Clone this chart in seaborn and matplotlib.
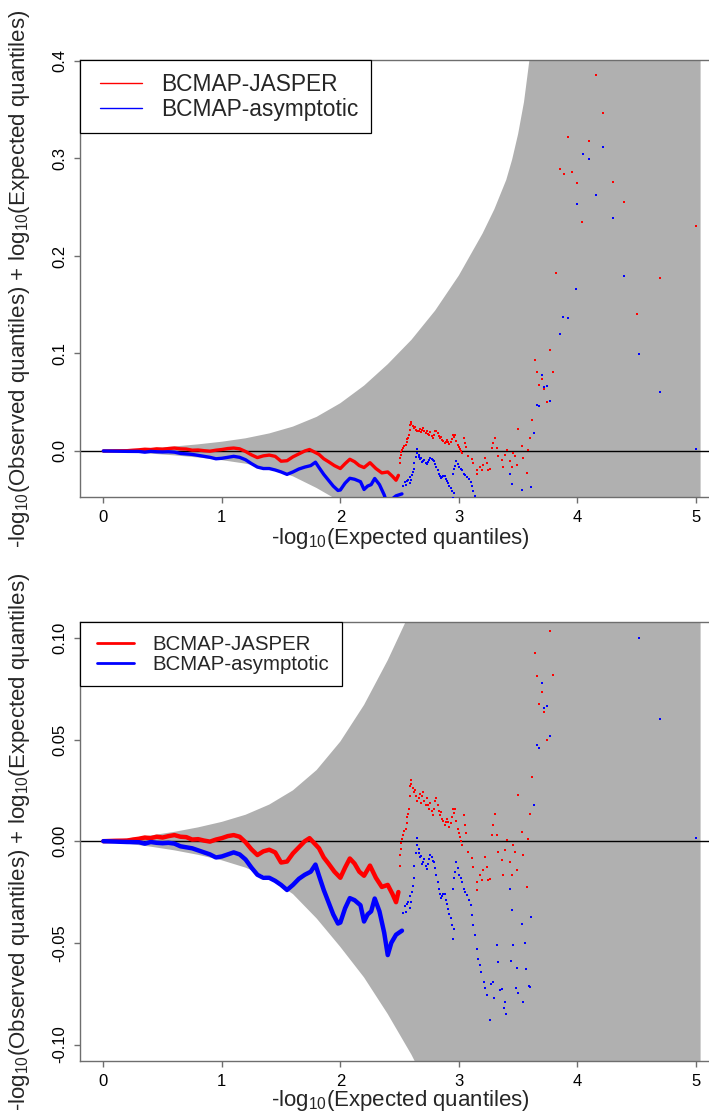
import matplotlib
matplotlib.use("Agg")
import matplotlib.pyplot as plt
from matplotlib.lines import Line2D
from matplotlib.legend_handler import HandlerLine2D
import seaborn as sns

# ---------------- data ----------------
band_x = [0.0, 0.2, 0.4, 0.6, 0.8, 1.0, 1.2, 1.4, 1.6, 1.8, 2.0, 2.2, 2.4, 2.6, 2.8, 3.0, 3.2, 3.3, 3.4, 3.45, 3.5,
          3.55, 3.6, 3.7, 3.8, 4.0, 4.5, 5.04]
band_upper = [0.0, 0.0013, 0.0028, 0.0046, 0.0068, 0.0095, 0.0130, 0.0180, 0.0250, 0.0350, 0.0490, 0.0670, 0.0890,
              0.1140, 0.1440, 0.1800, 0.2230, 0.2480, 0.2780, 0.2990, 0.3250, 0.3580, 0.4050, 0.5200, 0.6500, 0.9000,
              1.5000, 2.5000]
band_lower = [0.0, -0.0012, -0.0027, -0.0045, -0.0067, -0.0094, -0.0130, -0.0180, -0.0260, -0.0380, -0.0520, -0.0670,
              -0.0850, -0.1050, -0.1280, -0.1550, -0.1850, -0.2000, -0.2200, -0.2300, -0.2400, -0.2500, -0.2600,
              -0.2800, -0.3000, -0.3500, -0.4500, -0.6000]

red_line_x = [0.00, 0.10, 0.20, 0.25, 0.30, 0.35, 0.40, 0.45, 0.50, 0.55, 0.60, 0.65, 0.70, 0.75, 0.80, 0.85, 0.90, 0.95,
              1.00, 1.05, 1.10, 1.15, 1.20, 1.25, 1.30, 1.35, 1.40, 1.45, 1.50, 1.55, 1.60, 1.65, 1.70, 1.74, 1.78, 1.82,
              1.86, 1.90, 1.95, 2.00, 2.04, 2.08, 2.12, 2.16, 2.20, 2.25, 2.30, 2.35, 2.40, 2.44, 2.47, 2.49]
red_line_y = [0.0, 0.0002, 0.0003, 0.0008, 0.0012, 0.0018, 0.0015, 0.0022, 0.0018, 0.0025, 0.0030, 0.0022, 0.0020, 0.0008,
              0.0010, 0.0003, -0.0002, 0.0008, 0.0015, 0.0025, 0.0030, 0.0022, -0.0005, -0.0040, -0.0068, -0.0050, -0.0042,
              -0.0055, -0.0105, -0.0100, -0.0060, -0.0030, 0.0000, 0.0015, -0.0010, -0.0035, -0.0080, -0.0110, -0.0150,
              -0.0180, -0.0130, -0.0085, -0.0110, -0.0150, -0.0170, -0.0120, -0.0180, -0.0225, -0.0215, -0.0260, -0.0300, -0.0250]

blue_line_x = [0.00, 0.10, 0.20, 0.30, 0.35, 0.40, 0.45, 0.50, 0.55, 0.60, 0.65, 0.70, 0.75, 0.80, 0.85, 0.90, 0.95,
               1.00, 1.05, 1.10, 1.15, 1.20, 1.25, 1.30, 1.35, 1.40, 1.45, 1.50, 1.55, 1.60, 1.65, 1.70, 1.75, 1.79,
               1.82, 1.86, 1.90, 1.94, 1.98, 2.00, 2.04, 2.08, 2.12, 2.17, 2.20, 2.23, 2.26, 2.29, 2.33, 2.37, 2.40,
               2.43, 2.47, 2.52]
blue_line_y = [0.0, -0.0002, -0.0004, -0.0005, -0.0012, -0.0004, -0.0008, -0.0010, -0.0008, -0.0012, -0.0025, -0.0030,
               -0.0035, -0.0045, -0.0055, -0.0065, -0.0080, -0.0075, -0.0065, -0.0055, -0.0065, -0.0090, -0.0130, -0.0165,
               -0.0180, -0.0180, -0.0195, -0.0215, -0.0240, -0.0215, -0.0185, -0.0165, -0.0150, -0.0115, -0.0170, -0.0240,
               -0.0300, -0.0360, -0.0405, -0.0400, -0.0330, -0.0280, -0.0290, -0.0315, -0.0395, -0.0360, -0.0345, -0.0282,
               -0.0345, -0.0450, -0.0560, -0.0500, -0.0460, -0.0440]

red_pts_x = [2.50, 2.505, 2.51, 2.515, 2.52, 2.53, 2.54, 2.55, 2.56, 2.565, 2.57, 2.58, 2.585, 2.59, 2.595,
             2.60, 2.61, 2.62, 2.63, 2.64, 2.65, 2.66, 2.67, 2.68, 2.69, 2.70, 2.71, 2.72, 2.73, 2.74, 2.75, 2.76, 2.77,
             2.78, 2.79, 2.80, 2.81, 2.82, 2.83, 2.84, 2.85, 2.86, 2.87, 2.88, 2.89, 2.90, 2.91, 2.92, 2.93, 2.94, 2.95,
             2.96, 2.97, 2.98, 2.99, 3.00, 3.01, 3.02, 3.03, 3.04, 3.05, 3.06,
             3.08, 3.109, 3.123, 3.15, 3.15, 3.18, 3.193, 3.207, 3.22, 3.235, 3.249, 3.263, 3.277, 3.29, 3.305, 3.32,
             3.33, 3.36, 3.376, 3.39, 3.404, 3.432, 3.446, 3.46, 3.474, 3.488, 3.503, 3.53, 3.545, 3.573, 3.587, 3.60,
             3.615, 3.64, 3.657, 3.677, 3.70, 3.72, 3.745, 3.77, 3.795, 3.82, 3.855, 3.885, 3.92, 3.958, 3.997, 4.04,
             4.10, 4.155, 4.22, 4.30, 4.394, 4.50, 4.70, 5.00]
red_pts_y = [-0.012, -0.007, -0.004, -0.001, 0.001, 0.003, 0.005, 0.006, 0.009, 0.012, 0.0136, 0.016, 0.022, 0.027, 0.030,
             0.028, 0.026, 0.024, 0.025, 0.022, 0.020, 0.021, 0.023, 0.019, 0.022, 0.024, 0.020, 0.018, 0.021, 0.0177,
             0.016, 0.019, 0.015, 0.013, 0.016, 0.020, 0.021, 0.018, 0.015, 0.013, 0.0144, 0.011, 0.010, 0.008, 0.0095,
             0.011, 0.0095, 0.007, 0.009, 0.012, 0.016, 0.014, 0.016, 0.010, 0.006, 0.004, 0.002, 0.000, -0.002, 0.0128,
             0.008, 0.004,
             -0.0052, -0.0085, -0.0126, -0.0200, -0.0241, -0.0167, -0.0192, -0.0143, -0.0077, -0.0126, -0.0192, -0.0184,
             0.0030, 0.0079, 0.0136, 0.0030, -0.0052, -0.0094, -0.0167, -0.0044, 0.0005, -0.0102, -0.0167, -0.0020,
             -0.0052, -0.0143, 0.0226, 0.0046, -0.0069, -0.0225, 0.0013, 0.0136, 0.0317, 0.0928, 0.0813, 0.0676, 0.0736,
             0.0634, 0.0500, 0.1035, 0.0815, 0.183, 0.289, 0.284, 0.322, 0.286, 0.275, 0.235, 0.318, 0.386, 0.347, 0.276,
             0.255, 0.140, 0.177, 0.231]

blue_pts_x = [2.53, 2.545, 2.55, 2.56, 2.575, 2.585, 2.59, 2.60, 2.605, 2.61, 2.62, 2.625, 2.635, 2.645, 2.65, 2.66,
              2.665, 2.67, 2.68, 2.69, 2.70, 2.71, 2.72, 2.73, 2.74, 2.75, 2.76, 2.77, 2.78, 2.79, 2.80, 2.81, 2.82, 2.83,
              2.84, 2.85, 2.86, 2.87, 2.88, 2.89, 2.90, 2.91, 2.92, 2.93, 2.94, 2.95, 2.955, 2.95, 2.96, 2.97, 2.98,
              2.99, 3.00, 3.02, 3.03, 3.04, 3.055, 3.07, 3.085, 3.10, 3.11, 3.12, 3.135, 3.15, 3.16, 3.175, 3.19, 3.21,
              3.22, 3.24, 3.26, 3.27, 3.29, 3.30, 3.32, 3.33, 3.35, 3.36, 3.38, 3.39, 3.40, 3.43, 3.44, 3.45, 3.46, 3.48,
              3.49, 3.50, 3.53, 3.54, 3.56, 3.57, 3.59, 3.60, 3.61, 3.63, 3.657, 3.677, 3.70, 3.72, 3.747, 3.77, 3.85,
              3.88, 3.92, 3.99, 4.00, 4.045, 4.095, 4.155, 4.22, 4.30, 4.397, 4.52, 4.70, 5.00]
blue_pts_y = [-0.0355, -0.032, -0.035, -0.031, -0.0299, -0.027, -0.033, -0.030, -0.025, -0.022, -0.018, -0.012, -0.006,
              0.0018, -0.002, -0.006, -0.004, -0.008, -0.0075, -0.011, -0.0102, -0.009, -0.012, -0.0135, -0.011, -0.009,
              -0.0069, -0.008, -0.0095, -0.0102, -0.013, -0.0167, -0.020, -0.0233, -0.026, -0.028, -0.027, -0.026,
              -0.0258, -0.029, -0.031, -0.0333, -0.036, -0.038, -0.041, -0.0479, -0.043, -0.0233, -0.018, -0.015, -0.0102,
              -0.013, -0.0167, -0.018, -0.020, -0.0233, -0.025, -0.0266, -0.029, -0.0315, -0.0364, -0.0413, -0.046,
              -0.0528, -0.0577, -0.061, -0.0643, -0.0692, -0.072, -0.0758, -0.0881, -0.070, -0.0692, -0.077, -0.0512,
              -0.0594, -0.073, -0.0725, -0.082, -0.0791, -0.0849, -0.0233, -0.059, -0.034, -0.0512, -0.072, -0.0626,
              -0.0745, -0.0405, -0.079, -0.050, -0.063, -0.071, -0.0717, -0.0372, 0.018, 0.0475, 0.046, 0.078, 0.0655,
              0.0664, 0.0516, 0.120, 0.137, 0.136, 0.166, 0.253, 0.305, 0.2995, 0.263, 0.312, 0.239, 0.179, 0.0997,
              0.0603, 0.0018]

series_labels = ["BCMAP-JASPER", "BCMAP-asymptotic"]
top_yticks = [0.0, 0.1, 0.2, 0.3, 0.4]
top_yticklabels = ["0.0", "0.1", "0.2", "0.3", "0.4"]
bot_yticks = [-0.10, -0.05, 0.0, 0.05, 0.10]
bot_yticklabels = ["-0.10", "-0.05", "0.00", "0.05", "0.10"]
xticks = [0, 1, 2, 3, 4, 5]
xticklabels = ["0", "1", "2", "3", "4", "5"]

# ---------------- style ----------------
sns.set_style("white")
plt.rcParams["font.family"] = ["Liberation Sans", "DejaVu Sans"]
plt.rcParams["mathtext.fontset"] = "custom"
plt.rcParams["mathtext.rm"] = "Liberation Sans"
plt.rcParams["mathtext.it"] = "Liberation Sans:italic"

RED = "#ff0000"
BLUE = "#0000ff"
GREY = "#b0b0b0"
AXC = "#6e6e6e"

fig = plt.figure(figsize=(7.09, 11.14), dpi=100)
ax_top = fig.add_axes([80 / 709, 1 - 497 / 1114, 629 / 709, 437 / 1114])
ax_bot = fig.add_axes([80 / 709, 1 - 1061 / 1114, 629 / 709, 439 / 1114])

ylabel = r"-log$_{10}$(Observed quantiles) + log$_{10}$(Expected quantiles)"
xlabel = r"-log$_{10}$(Expected quantiles)"


def draw(ax, ylim, yticks, yticklabels, line_w, leg_fs, leg_lw, xpad, leg_kw, xlab_y):
    ax.fill_between(band_x, band_lower, band_upper, color=GREY, lw=0, zorder=1)
    ax.axhline(0, color="black", lw=1.0, zorder=2)
    sns.lineplot(x=red_line_x, y=red_line_y, color=RED, lw=line_w, sort=False, estimator=None, ax=ax, zorder=3)
    sns.lineplot(x=blue_line_x, y=blue_line_y, color=BLUE, lw=line_w, sort=False, estimator=None, ax=ax, zorder=3)
    sns.scatterplot(x=red_pts_x, y=red_pts_y, color=RED, s=3, marker="s", linewidth=0, ax=ax, zorder=4)
    sns.scatterplot(x=blue_pts_x, y=blue_pts_y, color=BLUE, s=3, marker="s", linewidth=0, ax=ax, zorder=4)

    ax.set_xlim(-0.197, 5.111)
    ax.set_ylim(*ylim)
    ax.set_xticks(xticks)
    ax.set_xticklabels(xticklabels)
    ax.set_yticks(yticks)
    ax.set_yticklabels(yticklabels, rotation=90, va="center")
    ax.tick_params(axis="both", direction="out", length=4, width=1, color=AXC,
                   labelsize=12, labelcolor="black", pad=5, bottom=True, left=True)
    for side in ["left", "bottom", "top"]:
        ax.spines[side].set_color(AXC)
        ax.spines[side].set_linewidth(1.0)
        ax.spines[side].set_visible(True)
    ax.spines["right"].set_visible(False)
    ax.grid(False)
    ax.set_facecolor("white")

    ax.set_ylabel(ylabel, fontsize=16, va="center")
    ax.yaxis.set_label_coords(-0.0954, 0.5)
    ax.set_xlabel(xlabel, fontsize=16, va="center")
    ax.xaxis.set_label_coords(0.509, xlab_y)

    handles = [Line2D([0], [0], color=RED, lw=leg_lw), Line2D([0], [0], color=BLUE, lw=leg_lw)]
    leg = ax.legend(handles, series_labels, loc="upper left", bbox_to_anchor=(0, 1), borderaxespad=0,
                    fancybox=False, framealpha=1, edgecolor="black", fontsize=leg_fs,
                    handler_map={Line2D: HandlerLine2D(xpad=xpad)}, **leg_kw)
    leg.get_frame().set_linewidth(0.9)
    leg.set_zorder(10)


draw(ax_top, (-0.0472, 0.401), top_yticks, top_yticklabels, 2.4, 16.4, 1.0, 0.33,
     dict(handlelength=2.17, handletextpad=0.83, borderpad=0.55, labelspacing=0.1), -0.094)
draw(ax_bot, (-0.1081, 0.1078), bot_yticks, bot_yticklabels, 3.2, 14.7, 2.0, 0.23,
     dict(handlelength=2.04, handletextpad=0.88, borderpad=0.62, labelspacing=0.05), -0.089)

fig.savefig("out.png", dpi=100)
